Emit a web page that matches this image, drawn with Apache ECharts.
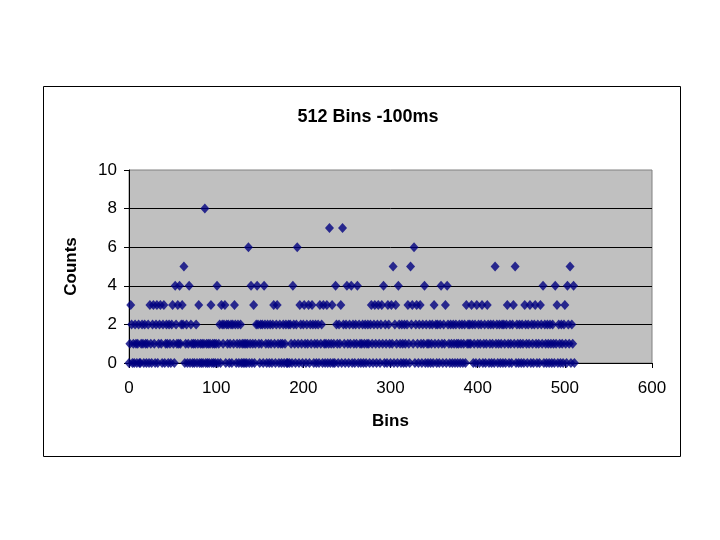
<!DOCTYPE html>
<html>
<head>
<meta charset="utf-8">
<script src="https://cdn.jsdelivr.net/npm/echarts@6/dist/echarts.min.js"></script>
<style>html,body{margin:0;padding:0;background:#fff}#c{width:720px;height:540px}</style>
</head>
<body>
<div id="c"></div>
<script>
// Counts per bin (bins 0..511), 32 bins per line
const counts = [
  0,1,3,2,0,1,0,2,1,0,1,2,0,0,1,2,1,0,2,1,0,1,2,0,3,1,0,2,3,1,0,2,
  3,0,1,2,3,1,0,2,3,0,1,2,1,0,2,1,0,2,3,1,0,4,2,1,3,1,4,1,2,3,2,5,
  0,1,2,0,1,4,0,2,1,0,1,0,1,2,0,1,3,0,1,0,1,0,1,8,0,1,0,1,0,1,3,0,
  1,0,1,0,1,4,0,1,2,0,3,2,1,2,3,0,2,1,2,0,1,2,0,2,1,3,2,0,1,2,0,1,
  2,0,1,0,1,0,1,0,1,6,0,1,4,0,1,3,0,1,2,4,2,1,0,2,1,2,0,4,2,1,0,2,
  1,0,2,1,0,2,3,1,0,2,3,1,0,2,1,0,1,2,0,1,2,0,0,2,0,2,1,0,4,2,1,0,
  2,6,1,0,3,2,1,0,2,3,1,0,2,1,3,0,2,1,3,2,0,1,2,0,1,2,0,3,1,2,0,3,
  1,0,1,3,0,1,7,0,1,3,0,1,0,4,2,1,0,2,1,3,0,7,2,1,0,2,4,1,0,2,1,4,
  0,2,1,0,2,1,4,0,2,1,0,1,2,0,1,2,0,1,2,1,0,2,3,1,0,2,3,1,0,2,3,1,
  0,2,3,1,4,0,2,1,0,3,2,1,0,3,1,5,0,2,3,1,0,4,2,1,0,2,1,0,2,1,0,2,
  3,1,0,5,2,3,1,6,0,2,3,1,0,2,3,1,0,2,1,4,0,2,1,0,1,2,0,1,2,0,3,1,
  2,0,2,1,0,2,4,1,0,2,1,3,0,4,2,1,0,2,1,0,2,1,0,2,1,0,1,2,0,1,2,0,
  1,2,0,3,1,2,1,2,1,3,2,0,1,2,0,3,1,2,0,1,2,3,0,1,2,0,1,3,2,0,1,2,
  0,1,2,0,5,1,2,0,1,2,0,1,2,0,2,1,0,2,3,1,0,2,1,0,2,3,1,5,0,2,1,0,
  2,1,0,2,1,0,3,2,1,0,2,1,3,0,2,1,0,2,3,1,0,2,1,0,3,2,1,4,0,2,1,0,
  2,1,0,2,1,0,2,1,0,4,1,3,0,2,1,0,2,1,0,2,3,1,0,4,2,1,5,0,2,1,4,0
];
const bins = counts.map((_, i) => i);
const xTicks = [0, 100, 200, 300, 400, 500, 600];
const yTicks = [0, 2, 4, 6, 8, 10];
const titleText = '512 Bins -100ms';
const xName = 'Bins';
const yName = 'Counts';

const FONT = '"Liberation Sans", Arial, sans-serif';
const chart = echarts.init(document.getElementById('c'), null, {renderer: 'canvas'});
chart.setOption({
  animation: false,
  backgroundColor: '#ffffff',
  graphic: [{
    type: 'rect', left: 41, top: 84, z: -10,
    shape: {x: 0, y: 0, width: 637, height: 370},
    style: {fill: 'none', stroke: '#000', lineWidth: 1}
  }],
  title: {
    text: titleText, left: 363, top: 103, textAlign: 'center',
    textStyle: {fontFamily: FONT, fontSize: 18, fontWeight: 'bold', color: '#000'}
  },
  grid: {
    left: 129, top: 170, width: 523, height: 193,
    show: true, backgroundColor: '#c0c0c0', borderColor: '#808080', borderWidth: 1
  },
  xAxis: {
    type: 'value', min: xTicks[0], max: xTicks[xTicks.length - 1], interval: 100,
    name: xName, nameLocation: 'middle', nameGap: 50,
    nameTextStyle: {fontFamily: FONT, fontSize: 17, fontWeight: 'bold', color: '#000'},
    axisLine: {show: true, onZero: false, lineStyle: {color: '#000', width: 1}},
    axisTick: {show: true, length: 5, inside: false, lineStyle: {color: '#000'}},
    axisLabel: {fontFamily: FONT, fontSize: 17, color: '#000', margin: 17},
    splitLine: {show: false}
  },
  yAxis: {
    type: 'value', min: yTicks[0], max: yTicks[yTicks.length - 1], interval: 2,
    name: yName, nameLocation: 'middle', nameGap: 49, nameRotate: 90,
    nameTextStyle: {fontFamily: FONT, fontSize: 17, fontWeight: 'bold', color: '#000'},
    axisLine: {show: true, onZero: false, lineStyle: {color: '#000', width: 1}},
    axisTick: {show: true, length: 5, inside: false, lineStyle: {color: '#000'}},
    axisLabel: {fontFamily: FONT, fontSize: 17, color: '#000', margin: 12},
    splitLine: {show: true, showMinLine: false, showMaxLine: false, lineStyle: {color: '#000', width: 1}}
  },
  series: [{
    type: 'scatter',
    data: bins.map((b, i) => [b, counts[i]]),
    symbol: 'diamond',
    symbolSize: [9, 10],
    itemStyle: {color: '#000080'},
    clip: false
  }]
});
</script>
</body>
</html>
